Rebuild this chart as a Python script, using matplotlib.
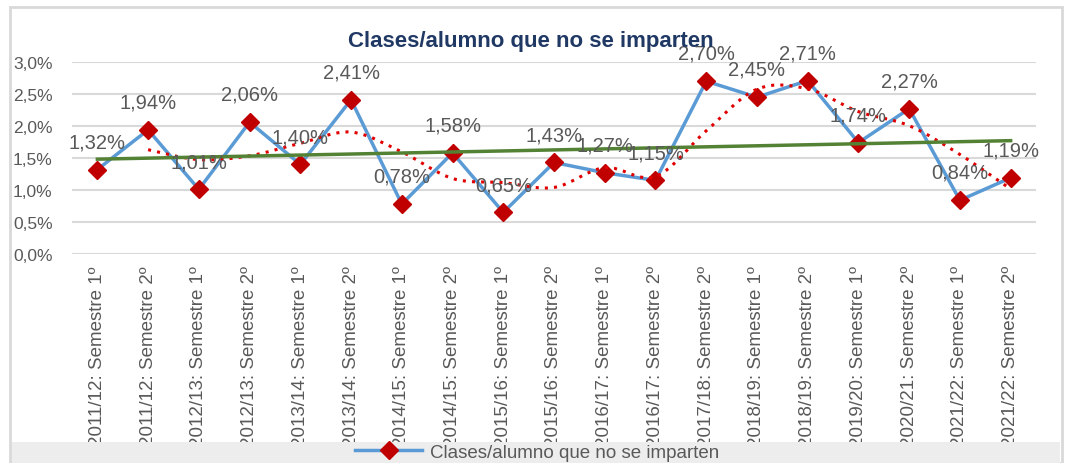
import numpy as np
import matplotlib.pyplot as plt
from matplotlib.path import Path
from matplotlib.patches import PathPatch, Rectangle
from matplotlib.lines import Line2D

plt.rcParams['font.family'] = ['Liberation Sans', 'DejaVu Sans']

periodos = ['2011/12: Semestre 1º', '2011/12: Semestre 2º', '2012/13: Semestre 1º',
            '2012/13: Semestre 2º', '2013/14: Semestre 1º', '2013/14: Semestre 2º',
            '2014/15: Semestre 1º', '2014/15: Semestre 2º', '2015/16: Semestre 1º',
            '2015/16: Semestre 2º', '2016/17: Semestre 1º', '2016/17: Semestre 2º',
            '2017/18: Semestre 2º', '2018/19: Semestre 1º', '2018/19: Semestre 2º',
            '2019/20: Semestre 1º', '2020/21: Semestre 2º', '2021/22: Semestre 1º',
            '2021/22: Semestre 2º']
valores = [1.32, 1.94, 1.01, 2.06, 1.40, 2.41, 0.78, 1.58, 0.65, 1.43,
           1.27, 1.15, 2.70, 2.45, 2.71, 1.74, 2.27, 0.84, 1.19]
etiquetas = ['1,32%', '1,94%', '1,01%', '2,06%', '1,40%', '2,41%', '0,78%', '1,58%',
             '0,65%', '1,43%', '1,27%', '1,15%', '2,70%', '2,45%', '2,71%', '1,74%',
             '2,27%', '0,84%', '1,19%']
yticks = [0, 0.5, 1.0, 1.5, 2.0, 2.5, 3.0]
ytick_labels = ['0,0%', '0,5%', '1,0%', '1,5%', '2,0%', '2,5%', '3,0%']

gris = '#595959'
azul = '#5b9bd5'
rojo = '#c00000'
verde = '#548235'

fig = plt.figure(figsize=(10.72, 4.64), dpi=100)
# marco exterior y banda de leyenda (la banda tapa el final de las etiquetas)
fig.patches.append(Rectangle((10/1072, 0), 1052/1072, 456/464, transform=fig.transFigure,
                             facecolor='white', edgecolor='#d9d9d9', linewidth=2, zorder=-2))
fig.patches.append(Rectangle((12/1072, 0), 1048/1072, 21/464, transform=fig.transFigure,
                             facecolor='#ededed', edgecolor='none', zorder=2))

n = len(valores)
x = np.arange(n)
y = np.array(valores)

ax = fig.add_axes([72/1072, 1 - 255/464, 964/1072, 192/464])
ax.set_facecolor('none')
ax.set_xlim(-0.5, n - 0.5)
ax.set_ylim(0, 3.0)
ax.set_yticks(yticks)
ax.set_yticklabels(ytick_labels, fontsize=12.5, color=gris)
ax.set_xticks(x)
ax.set_xticklabels(periodos, rotation=90, fontsize=13.5, color=gris, va='top')
ax.tick_params(length=0, pad=8)
ax.tick_params(axis='y', pad=14)
for s in ax.spines.values():
    s.set_visible(False)
ax.grid(axis='y', color='#d9d9d9', linewidth=1.5)
ax.set_axisbelow(True)

# serie principal
ax.plot(x, y, color=azul, linewidth=2.5, marker='D', markersize=9.5,
        markerfacecolor=rojo, markeredgecolor=rojo, zorder=3)

# media movil de 2 periodos, suavizada con curvas de Bezier
mm = (y[1:] + y[:-1]) / 2
xm = x[1:]
pts = np.column_stack([xm, mm])
verts = [pts[0]]
codes = [Path.MOVETO]
for i in range(len(pts) - 1):
    p0 = pts[i - 1] if i > 0 else pts[i]
    p1 = pts[i]
    p2 = pts[i + 1]
    p3 = pts[i + 2] if i + 2 < len(pts) else pts[i + 1]
    c1 = p1 + (p2 - p0) / 6
    c2 = p2 - (p3 - p1) / 6
    verts += [c1, c2, p2]
    codes += [Path.CURVE4] * 3
ax.add_patch(PathPatch(Path(verts, codes), facecolor='none', edgecolor='#e00000',
                       linewidth=2.2, linestyle=(0, (1, 2)), zorder=4))

# tendencia lineal
a, b = np.polyfit(x, y, 1)
ax.plot([x[0], x[-1]], [a * x[0] + b, a * x[-1] + b], color=verde, linewidth=2.5, zorder=5)

for xi, yi, t in zip(x, y, etiquetas):
    ax.annotate(t, (xi, yi), xytext=(0, 20), textcoords='offset points',
                ha='center', va='center', fontsize=14.5, color=gris, zorder=6)

fig.text(531/1072, 1 - 42/464, 'Clases/alumno que no se imparten', ha='center', va='center',
         fontsize=16, fontweight='bold', color='#1f3864')

h = Line2D([], [], color=azul, linewidth=2.5, marker='D', markersize=9.5,
           markerfacecolor=rojo, markeredgecolor=rojo)
leg = fig.legend([h], ['Clases/alumno que no se imparten'], loc='center',
                 bbox_to_anchor=(537/1072, 11/464), frameon=False, fontsize=13.5,
                 labelcolor=gris, handlelength=3.6, handletextpad=0.4)
leg.set_zorder(5)

plt.savefig('out.png', dpi=100)
